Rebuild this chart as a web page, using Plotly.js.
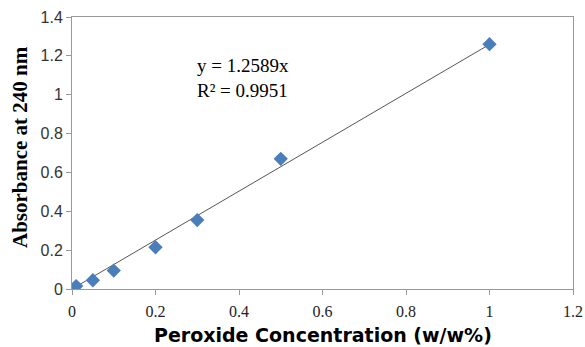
<!DOCTYPE html>
<html><head><meta charset="utf-8">
<script src="https://cdn.plot.ly/plotly-3.0.1.min.js"></script>
<style>html,body{margin:0;padding:0;background:#fff}</style>
</head><body><div id="chart" style="width:585px;height:347px"></div>
<script>
const concentration = [0.01, 0.05, 0.1, 0.2, 0.3, 0.5, 1.0];
const absorbance = [0.015, 0.045, 0.095, 0.215, 0.355, 0.67, 1.26];
const slope = 1.2589;
const trendX = [0, 1.0];
const trendY = trendX.map(x => slope * x);
const xTicks = [0, 0.2, 0.4, 0.6, 0.8, 1, 1.2];
const yTicks = [0, 0.2, 0.4, 0.6, 0.8, 1, 1.2, 1.4];

const SERIF = 'Liberation Serif';
const traces = [
  {x: trendX, y: trendY, mode: 'lines', line: {color: '#555555', width: 1}, hoverinfo: 'skip', showlegend: false},
  {x: concentration, y: absorbance, mode: 'markers', marker: {symbol: 'diamond', size: 11, color: '#4a7ebb', line: {width: 0}}, showlegend: false}
];
const layout = {
  width: 585, height: 347,
  font: {family: SERIF},
  margin: {l: 72, r: 12, t: 17, b: 58},
  paper_bgcolor: '#fff', plot_bgcolor: '#fff',
  xaxis: {
    range: [0, 1.2], tickvals: xTicks, ticktext: xTicks.map(String),
    showgrid: false, zeroline: false, showline: true, linecolor: '#999', linewidth: 1, mirror: true,
    ticks: 'outside', ticklen: 5, tickcolor: '#999', ticklabelstandoff: 3,
    tickfont: {family: SERIF, size: 16, color: '#222'},
    title: {text: ''}
  },
  yaxis: {
    range: [0, 1.4], tickvals: yTicks, ticktext: yTicks.map(String),
    showgrid: false, zeroline: false, showline: true, linecolor: '#999', linewidth: 1, mirror: true,
    ticks: 'outside', ticklen: 5, tickcolor: '#999',
    tickfont: {family: 'Liberation Sans', size: 16, color: '#333'},
    title: {text: ''}
  },
  annotations: [
    {x: 0.295, y: 1.085, xref: 'x', yref: 'y', text: 'y = 1.2589x<br>R² = 0.9951', showarrow: false, align: 'left', xanchor: 'left', yanchor: 'middle',
     font: {family: SERIF, size: 19, color: '#000'}},
    {x: (20 - 72) / 501, y: 142 / 272, xref: 'paper', yref: 'paper', text: '<b>Absorbance at 240 nm</b>', showarrow: false, textangle: -90,
     xanchor: 'center', yanchor: 'middle', font: {family: SERIF, size: 21, color: '#000'}},
    {x: (323 - 72) / 501, y: -(335 - 289) / 272, xref: 'paper', yref: 'paper', text: '<b>Peroxide Concentration (w/w%)</b>', showarrow: false,
     xanchor: 'center', yanchor: 'middle', font: {family: 'DejaVu Sans', size: 19, color: '#000'}}
  ]
};
Plotly.newPlot('chart', traces, layout, {displayModeBar: false, staticPlot: true});
</script></body></html>
